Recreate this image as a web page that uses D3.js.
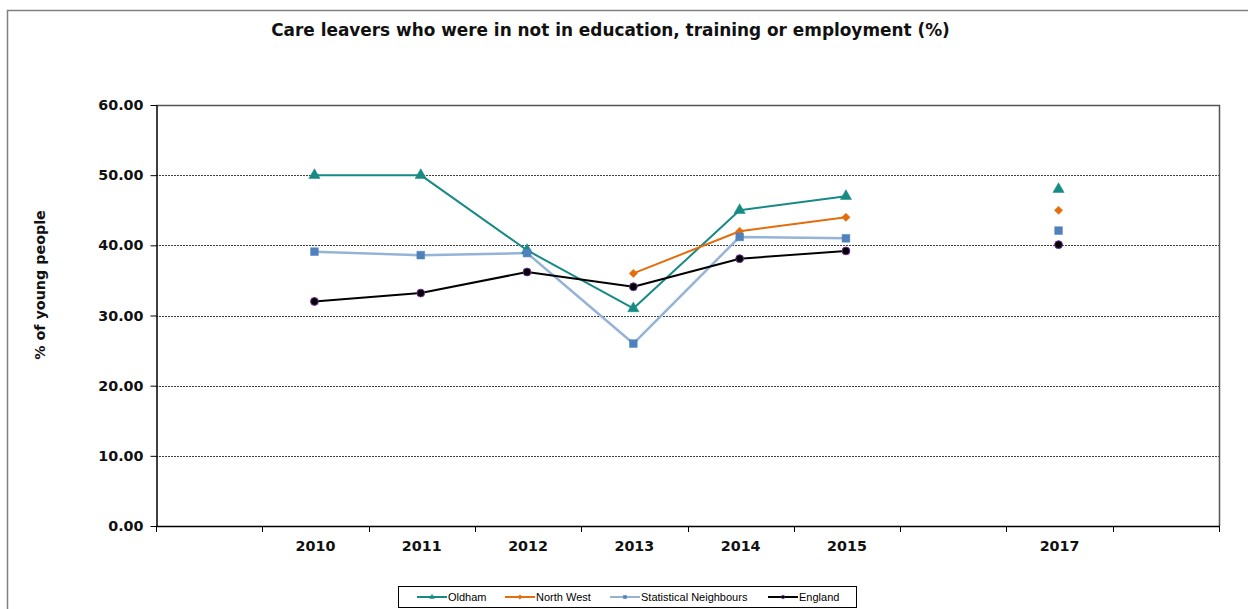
<!DOCTYPE html>
<html><head><meta charset="utf-8">
<script src="https://cdn.jsdelivr.net/npm/d3@7"></script>
<style>html,body{margin:0;padding:0;background:#fff;}svg{display:block;}</style>
</head><body>
<svg id="chart" width="1248" height="609"></svg>
<script>
const categories = ["", "2010", "2011", "2012", "2013", "2014", "2015", "", "2017", ""];
const oldham      = [null, 50.0, 50.0, 39.3, 31.0, 45.0, 47.0, null, 48.0, null];
const northWest   = [null, null, null, null, 36.0, 42.0, 44.0, null, 45.0, null];
const statNeighb  = [null, 39.1, 38.6, 38.9, 26.0, 41.2, 41.0, null, 42.1, null];
const england     = [null, 32.0, 33.2, 36.2, 34.1, 38.1, 39.2, null, 40.1, null];
const yTicks = [0, 10, 20, 30, 40, 50, 60];
const title = "Care leavers who were in not in education, training or employment (%)";
const yTitle = "% of young people";

const series = [
  {name: "Oldham", values: oldham, line: "#178a84", mark: "#178a84", stroke: "#178a84", shape: d3.symbolTriangle, size: 55, rot: 0, lw: 2},
  {name: "North West", values: northWest, line: "#e46c0a", mark: "#e46c0a", stroke: "#e46c0a", shape: d3.symbolSquare, size: 34, rot: 45, lw: 2},
  {name: "Statistical Neighbours", values: statNeighb, line: "#95b3d7", mark: "#4f81bd", stroke: "#4f81bd", shape: d3.symbolSquare, size: 60, rot: 0, lw: 2.5},
  {name: "England", values: england, line: "#000000", mark: "#000000", stroke: "#7030a0", shape: d3.symbolCircle, size: 48, rot: 0, lw: 2}
];

const svg = d3.select("#chart");
const L = 156, R = 1219, T = 105, B = 526;

// outer frame
svg.append("rect").attr("x", 7.5).attr("y", 10.5).attr("width", 1260).attr("height", 620)
  .attr("fill", "none").attr("stroke", "#808080").attr("stroke-width", 1.5);

const x = d3.scaleBand().domain(d3.range(categories.length)).range([L, R]).paddingInner(0).paddingOuter(0);
const y = d3.scaleLinear().domain([0, 60]).range([B, T]);

// gridlines
svg.append("g").selectAll("line").data(yTicks.filter(t => t > 0 && t < 60)).join("line")
  .attr("x1", L).attr("x2", R).attr("y1", d => Math.round(y(d)) + 0.5).attr("y2", d => Math.round(y(d)) + 0.5)
  .attr("stroke", "#404040").attr("stroke-width", 1).attr("stroke-dasharray", "2,1");

// plot border top/right
svg.append("path").attr("d", `M${L},${T + 0.5}H${R + 0.5}V${B}`).attr("fill", "none")
  .attr("stroke", "#555").attr("stroke-width", 1.5);

// y axis
const yAxis = d3.axisLeft(y).tickValues(yTicks).tickSize(6).tickSizeOuter(0).tickPadding(7)
  .tickFormat(d3.format(".2f"));
const gy = svg.append("g").attr("transform", `translate(${L + 0.5},0)`).call(yAxis);
gy.select(".domain").attr("stroke", "#000").attr("stroke-width", 1.5);
gy.selectAll(".tick line").attr("stroke", "#000");
gy.selectAll("text").attr("font-family", "DejaVu Sans").attr("font-weight", "bold")
  .attr("font-size", "14.3px").attr("fill", "#111");

// x axis: ticks at category boundaries
const boundaries = d3.range(categories.length + 1).map(i => L + i * x.bandwidth());
svg.append("line").attr("x1", L).attr("x2", R + 1).attr("y1", B + 0.5).attr("y2", B + 0.5)
  .attr("stroke", "#000").attr("stroke-width", 1.5);
svg.append("g").selectAll("line").data(boundaries).join("line")
  .attr("x1", d => Math.round(d) + 0.5).attr("x2", d => Math.round(d) + 0.5)
  .attr("y1", B).attr("y2", B + 6).attr("stroke", "#000");
svg.append("g").selectAll("text").data(categories).join("text")
  .attr("x", (d, i) => x(i) + x.bandwidth() / 2).attr("y", 551)
  .attr("text-anchor", "middle").attr("font-family", "DejaVu Sans").attr("font-weight", "bold")
  .attr("font-size", "14.3px").attr("fill", "#111").text(d => d);

// title
svg.append("text").attr("x", 610.5).attr("y", 36).attr("text-anchor", "middle")
  .attr("font-family", "DejaVu Sans").attr("font-weight", "bold").attr("font-size", "16.9px")
  .attr("fill", "#111").text(title);

// y title
svg.append("text").attr("transform", `translate(45,285) rotate(-90)`).attr("text-anchor", "middle")
  .attr("font-family", "DejaVu Sans").attr("font-weight", "bold").attr("font-size", "14.3px")
  .attr("fill", "#111").text(yTitle);

// lines
const cx = i => x(i) + x.bandwidth() / 2 - 1;
const lineGen = d3.line().defined(d => d.v != null).x(d => cx(d.i)).y(d => y(d.v));
series.forEach(s => {
  const pts = s.values.map((v, i) => ({v, i}));
  svg.append("path").datum(pts).attr("d", lineGen).attr("fill", "none")
    .attr("stroke", s.line).attr("stroke-width", s.lw).attr("stroke-linejoin", "round");
});
series.forEach(s => {
  const pts = s.values.map((v, i) => ({v, i})).filter(d => d.v != null);
  svg.append("g").selectAll("path").data(pts).join("path")
    .attr("transform", d => `translate(${cx(d.i)},${y(d.v)}) rotate(${s.rot})`)
    .attr("d", d3.symbol().type(s.shape).size(s.size))
    .attr("fill", s.mark).attr("stroke", s.stroke).attr("stroke-width", s.name === "England" ? 1 : 0.5);
});

// legend
const lg = svg.append("g");
lg.append("rect").attr("x", 398.5).attr("y", 586.5).attr("width", 458).attr("height", 21)
  .attr("fill", "#fff").attr("stroke", "#000").attr("stroke-width", 1);
const legendX = [417, 505, 610, 768];
series.forEach((s, k) => {
  const lx = legendX[k], ly = 597;
  lg.append("line").attr("x1", lx).attr("x2", lx + 30).attr("y1", ly).attr("y2", ly)
    .attr("stroke", s.line).attr("stroke-width", 2);
  lg.append("path").attr("transform", `translate(${lx + 15},${ly}) rotate(${s.rot})`)
    .attr("d", d3.symbol().type(s.shape).size(10)).attr("fill", s.mark).attr("stroke", s.stroke).attr("stroke-width", 0.5);
  lg.append("text").attr("x", lx + 31).attr("y", ly + 4).attr("font-family", "Liberation Sans")
    .attr("font-size", "11px").attr("fill", "#000").text(s.name);
});
</script>
</body></html>
